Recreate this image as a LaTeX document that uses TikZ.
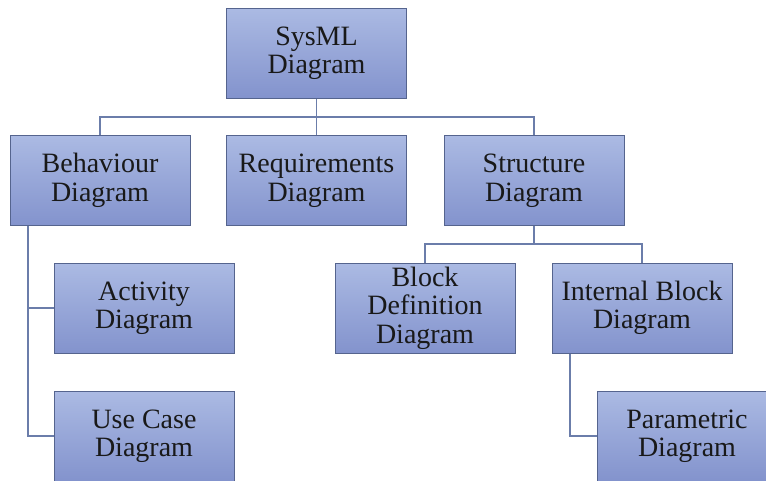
\documentclass[tikz,border=0pt]{standalone}
\usepackage{fontspec}
\setmainfont{Liberation Serif}
\begin{document}
\begin{tikzpicture}[x=1pt,y=-1pt,
  blk/.style={draw=boxline, line width=1pt, top color=boxtop, bottom color=boxbot,
    minimum width=180pt, minimum height=90pt, inner sep=2pt, align=center,
    font=\fontsize{28}{28.5}\selectfont, text=black!90},
  link/.style={draw=linkc, line width=1.1pt}]
\definecolor{boxtop}{HTML}{ABBAE3}
\definecolor{boxbot}{HTML}{8393CD}
\definecolor{boxline}{HTML}{55648E}
\definecolor{linkc}{HTML}{6B7DAA}
\useasboundingbox (0,0) rectangle (766,480);
\clip (0,0) rectangle (766,480);
% boxes
\node[blk] (sys) at (316.5,53) {SysML\\Diagram};
\node[blk] (beh) at (100,180.5) {Behaviour\\Diagram};
\node[blk] (req) at (316.5,180.5) {Requirements\\Diagram};
\node[blk] (str) at (534,180.5) {Structure\\Diagram};
\node[blk] (act) at (144,308) {Activity\\Diagram};
\node[blk] (use) at (144,436) {Use Case\\Diagram};
\node[blk] (bdd) at (425,308) {Block\\Definition\\Diagram};
\node[blk] (ibd) at (642,308) {Internal Block\\Diagram};
\node[blk] (par) at (687,436) {Parametric\\Diagram};
% tree links
\coordinate (j1) at (316.5,117);
\coordinate (j2) at (534,244);
\coordinate (bx) at (28,0);
\coordinate (ix) at (570,0);
\draw[link] (sys.south) -- (j1);
\draw[link] (beh.north) |- (j1) -| (str.north);
\draw[link] (j1) -- (req.north);
\draw[link] (str.south) -- (j2);
\draw[link] (bdd.north) |- (j2) -| (ibd.north);
\draw[link] (beh.south -| bx) |- (use.west);
\draw[link] (act.west -| bx) -- (act.west);
\draw[link] (ibd.south -| ix) |- (par.west);
\end{tikzpicture}
\end{document}
